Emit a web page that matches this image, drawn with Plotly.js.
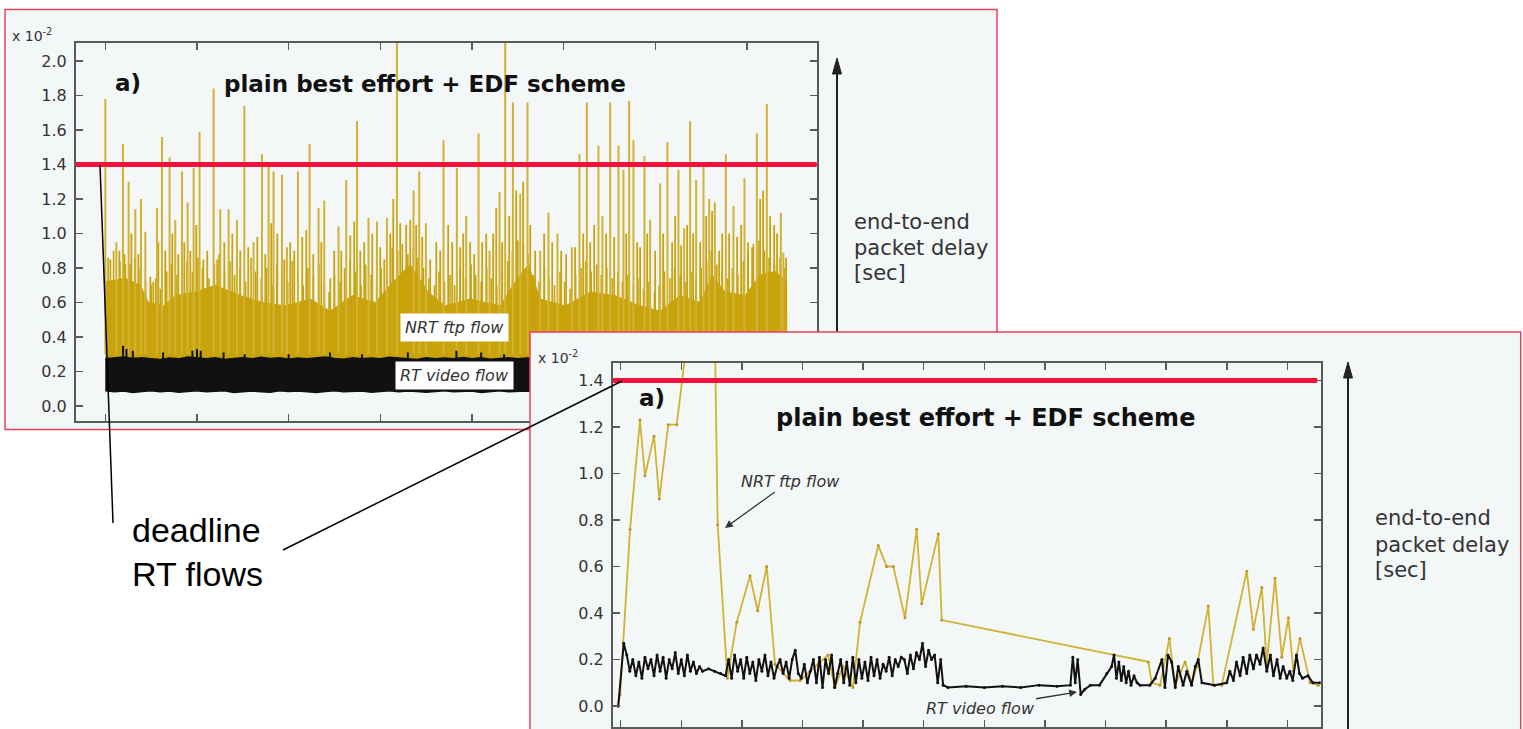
<!DOCTYPE html>
<html><head><meta charset="utf-8">
<script src="https://cdn.plot.ly/plotly-3.0.1.min.js"></script>
<style>
html,body{margin:0;padding:0;background:#fff;}
#wrap{position:relative;width:1523px;height:729px;overflow:hidden;}
#p1,#p2{position:absolute;left:0;top:0;width:1523px;height:729px;}
</style></head><body>
<div id="wrap"><div id="p1"></div><div id="p2"></div></div>
<script>
// ---------------- DATA (delay in units of 1e-2 s, time in arbitrary units, tick every 10) ----------------
const deadline = 1.4;

// Panel 1 (overview): NRT ftp flow, tall delay spikes
const nrtSpikeTime = [0.0,1.2,1.93,2.54,3.27,3.89,4.36,5.64,6.18,7.01,7.63,8.36,8.98,9.63,10.28,11.81,12.54,13.45,14.36,15.16,16.17,17.09,17.81,18.35,19.27,19.81,21.01,22.28,23.26,23.88,25.44,26.28,27.45,28.71,29.63,30.72,31.81,33.62,34.24,34.97,36.89,38.35,39.37,40.71,41.91,43.0,43.62,44.46,45.26,46.05,47.44,48.34,49.32,50.89,51.72,52.53,53.79,54.23,55.07,55.98,56.52,57.14,57.61,58.81,59.43,60.52,61.32,62.52,63.14,63.79,64.45,65.25,65.87,66.49,67.69,68.52,69.72,71.07,72.16,73.69,73.97];
const nrtSpikeDelay = [1.78,0.95,1.52,1.30,1.14,1.20,1.01,1.15,1.56,1.44,1.08,1.36,1.18,1.38,1.59,1.84,1.14,1.14,1.08,1.74,0.95,1.46,1.39,1.36,1.34,0.92,1.36,1.52,1.15,1.19,1.04,1.31,1.65,1.09,1.07,1.09,2.30,1.25,1.36,1.06,1.54,1.38,1.10,1.58,0.90,1.24,2.30,1.76,1.23,1.76,0.90,1.12,1.00,0.92,1.46,1.76,1.51,1.10,1.76,1.51,1.37,1.77,1.54,1.45,1.08,1.29,1.53,1.37,1.03,1.65,1.31,1.39,1.20,1.18,1.46,1.16,1.32,1.58,1.75,1.12,0.89];
// Panel 1: NRT ftp flow, medium spikes
const nrtMidTime = [0.55,1.53,2.18,2.84,3.6,4.91,5.23,5.78,6.54,7.31,7.96,8.62,9.27,9.92,10.69,11.12,12.21,12.98,13.85,14.72,15.59,16.58,17.45,18.1,18.76,19.52,20.17,20.61,21.48,21.92,22.68,23.56,24.54,24.97,25.74,26.72,27.15,27.81,28.24,29.12,29.99,30.43,31.08,31.41,32.17,32.82,33.26,33.91,34.57,35.44,36.1,36.53,37.4,37.84,38.71,39.04,39.8,40.24,41.11,41.55,42.31,42.64,43.29,44.06,44.82,45.58,46.35,46.89,47.87,48.75,49.73,50.27,51.25,52.13,52.89,53.33,54.63,55.51,56.82,58.02,58.34,59.11,59.98,60.85,61.83,62.16,62.81,63.47,64.12,64.89,65.54,66.19,66.96,67.29,68.05,68.92,69.36,70.12,70.56,71.43,71.76,72.52,72.96,73.28,74.26];
const nrtMidDelay = [0.85,0.9,0.82,1.0,0.88,0.75,0.72,0.95,0.9,1.0,0.88,0.95,0.9,1.05,0.85,0.9,0.85,0.95,1.0,0.9,0.92,0.98,0.88,1.06,1.0,0.85,0.95,0.9,0.98,1.02,0.88,0.95,0.74,0.9,0.9,0.99,1.07,0.9,0.95,1.0,0.92,0.85,1.0,1.2,1.06,1.05,1.08,1.05,0.98,0.85,0.95,0.9,1.05,0.95,0.92,1.0,0.95,0.88,0.95,1.0,1.0,1.15,0.95,1.1,1.25,1.3,1.05,0.9,1.0,0.95,0.9,0.88,0.92,1.0,0.95,1.05,1.0,0.98,1.0,0.95,0.92,1.0,0.9,1.0,0.95,1.1,0.93,1.05,1.0,0.95,1.1,1.13,0.9,1.0,1.0,0.98,1.05,0.95,0.92,1.2,1.25,1.1,1.05,1.0,0.86];
// Panel 1: NRT ftp flow, short dense spikes
const nrtGrassTime = [0.3,0.9,1.6,2.1,2.7,3.2,3.8,4.4, 5.0,5.5,6.0,6.7,7.2,7.8,8.4,8.9, 9.5,10.1,10.6,11.3,11.9,12.4,13.0,13.6, 14.1,14.7,15.3,15.9,16.4,17.0,17.6,18.2, 18.7,19.3,19.9,20.4,21.0,21.6,22.1,22.7, 23.3,23.9,24.4,25.0,25.6,26.1,26.7,27.3, 27.9,28.4,29.0,29.6,30.1,30.7,31.3,31.9, 32.4,33.0,33.6,34.1,34.7,35.3,35.9,36.4, 37.0,37.6,38.1,38.7,39.3,39.9,40.4,41.0, 41.6,42.1,42.7,43.3,43.9,44.4,45.0,45.6, 46.1,46.7,47.3,47.9,48.4,49.0,49.6,50.1, 50.7,51.3,51.9,52.4,53.0,53.6,54.1,54.7, 55.3,55.9,56.4,57.0,57.6,58.1,58.7,59.3, 59.9,60.4,61.0,61.6,62.1,62.7,63.3,63.9, 64.4,65.0,65.6,66.1,66.7,67.3,67.9,68.4, 69.0,69.6,70.1,70.7,71.3,71.9,72.4,73.0, 73.6,74.1];
const nrtGrassDelay = [0.86,0.9,0.84,0.88,0.82,0.86,0.8,0.72, 0.7,0.74,0.68,0.78,0.82,0.76,0.8,0.84, 0.78,0.86,0.8,0.74,0.82,0.88,0.78,0.84, 0.76,0.8,0.72,0.86,0.78,0.74,0.8,0.7, 0.82,0.76,0.72,0.84,0.78,0.7,0.8,0.74, 0.82,0.7,0.66,0.76,0.72,0.8,0.84,0.78, 0.7,0.82,0.76,0.72,0.8,0.86,0.92,0.9, 0.94,0.88,0.92,0.86,0.8,0.74,0.7,0.78, 0.72,0.76,0.7,0.8,0.74,0.82,0.76,0.72, 0.8,0.74,0.7,0.78,0.84,0.9,0.96,0.94, 0.88,0.76,0.72,0.8,0.74,0.7,0.78,0.72, 0.68,0.76,0.8,0.84,0.78,0.82,0.76,0.8, 0.74,0.78,0.72,0.76,0.7,0.74,0.68,0.72, 0.66,0.7,0.78,0.74,0.8,0.76,0.72,0.78, 0.74,0.8,0.84,0.9,0.82,0.78,0.74,0.8, 0.76,0.84,0.9,0.94,0.96,0.9,0.86,0.82, 0.86,0.8];
// Panel 1: NRT ftp flow, solid band upper envelope
const nrtBandTime = [0,2.18,3.82,4.69,6.33,7.63,9.81,12.0,14.72,17.12,19.63,22.36,24.54,26.94,29.44,31.41,33.26,35.22,37.08,39.8,43.08,44.71,46.13,47.44,50.16,52.89,55.62,58.34,60.52,62.7,64.89,66.19,67.61,69.79,71.43,73.06,74.37];
const nrtBandDelay = [0.72,0.74,0.7,0.6,0.58,0.64,0.66,0.7,0.64,0.6,0.58,0.62,0.55,0.64,0.6,0.72,0.82,0.66,0.58,0.62,0.58,0.72,0.82,0.62,0.58,0.66,0.64,0.58,0.55,0.64,0.6,0.76,0.66,0.64,0.76,0.78,0.72];
// Panel 1: RT video flow band
const rtBandTime  = [0,1,2,3,4,5,6,7,8,9,10,11,12,13,14,15,16,17,18,19,20,21,22,23,24,25,26,27,28,29,30,31,32,33,34,35,36,37,38,39,40,41,42,43,44,45,46,50,55,60,65,70,74.4];
const rtBandUpper = [0.272,0.278,0.282,0.274,0.279,0.273,0.268,0.277,0.272,0.283,0.278,0.273,0.279,0.269,0.274,0.278,0.272,0.281,0.274,0.278,0.27,0.277,0.273,0.278,0.282,0.274,0.27,0.278,0.273,0.277,0.272,0.281,0.277,0.273,0.269,0.278,0.273,0.277,0.272,0.28,0.273,0.278,0.27,0.274,0.278,0.273,0.277,0.274,0.278,0.273,0.277,0.274,0.274];
const rtBandLower = [0.088,0.083,0.087,0.079,0.084,0.088,0.083,0.087,0.08,0.084,0.088,0.083,0.085,0.088,0.079,0.084,0.087,0.083,0.08,0.088,0.084,0.087,0.083,0.079,0.084,0.088,0.083,0.085,0.087,0.08,0.084,0.088,0.083,0.087,0.084,0.08,0.084,0.088,0.083,0.085,0.087,0.079,0.084,0.088,0.083,0.085,0.087,0.084,0.087,0.083,0.085,0.087,0.084];
const rtSpikeTime  = [1.93,2.3,3.0,6.3,9.5,10.0,10.4,12.9,15.2,20,24.5,28,33,38.3,41,43.5];
const rtSpikeDelay = [0.35,0.33,0.32,0.31,0.32,0.33,0.32,0.31,0.30,0.30,0.31,0.30,0.31,0.32,0.31,0.30];

// Panel 2 (zoom): NRT ftp flow
const nrtZoomTime  = [-0.5,-0.1,1.54,3.18,4.0,5.5,6.37,7.85,9.24,12.5,15.4,16.0,17.6,19.14,21.34,22.6,24.09,25.46,27.94,29.6,34.2,35.35,36.67,38.32,39.49,42.5,43.89,44.98,46.91,48.84,49.67,52.41,52.97,87.06,87.62,88.99,90.53,91.47,93.12,94.22,95.05,96.96,97.79,99.17,103.3,104.39,105.78,106.6,107.97,109.08,110.17,110.99,112.09,113.74,115.1];
const nrtZoomDelay = [0.0,0.05,0.76,1.23,0.99,1.16,0.89,1.21,1.21,1.9,1.85,0.78,0.12,0.36,0.56,0.41,0.6,0.18,0.11,0.11,0.22,0.08,0.17,0.08,0.36,0.69,0.6,0.6,0.38,0.76,0.44,0.74,0.37,0.19,0.1,0.09,0.29,0.09,0.19,0.1,0.17,0.43,0.09,0.09,0.58,0.33,0.51,0.18,0.55,0.21,0.38,0.15,0.29,0.1,0.09];
// Panel 2 (zoom): RT video flow
const rtZoomTime  = [-0.4,0.5,1.0,1.5,2.0,2.5,3.0,3.5,4.0,4.5,5.0,5.5,6.0,6.5,7.0,7.5,8.0,8.5,9.0,9.5,10.0,10.5,11.0,11.5,12.0,12.5,13.0,13.5,14.5,15.5,16.5,17.3,17.8,18.3,18.8,19.3,19.8,20.3,20.8,21.3,21.8,22.3,22.8,23.3,23.8,24.3,24.8,25.3,25.8,26.3,26.8,27.3,27.8,28.3,28.8,29.3,29.8,30.3,30.8,31.3,31.8,32.3,32.8,33.3,33.8,34.3,34.8,35.3,35.8,36.3,36.8,37.3,37.8,38.3,38.8,39.3,39.8,40.3,40.8,41.3,41.8,42.3,42.8,43.3,43.8,44.3,44.8,45.3,45.8,46.3,46.8,47.3,47.8,48.3,48.8,49.3,49.8,50.3,50.8,51.3,51.8,52.3,52.8,53.2,54,57,60,63,66,69,72,74.2,74.6,75.0,75.4,75.9,76.5,77.5,79.0,80.2,81.0,81.4,81.8,82.2,82.6,83.0,83.4,83.8,84.2,84.7,85.2,85.7,87.3,88.2,89.3,89.8,90.3,90.9,91.5,92.0,92.8,93.4,94.2,94.8,95.3,95.9,98.0,100.0,100.5,101.1,101.6,102.2,102.7,103.3,103.8,104.4,104.9,105.5,106.0,106.6,107.2,107.7,108.3,108.8,109.3,109.9,110.4,110.9,111.5,112.0,112.5,113.4,114.2,115.4];
const rtZoomDelay = [0.0,0.27,0.22,0.15,0.2,0.13,0.19,0.12,0.21,0.16,0.2,0.13,0.22,0.15,0.21,0.12,0.2,0.16,0.23,0.14,0.2,0.13,0.22,0.15,0.19,0.14,0.17,0.15,0.16,0.15,0.14,0.13,0.2,0.12,0.22,0.15,0.2,0.12,0.21,0.14,0.19,0.11,0.2,0.15,0.22,0.13,0.19,0.12,0.17,0.2,0.14,0.19,0.12,0.2,0.24,0.14,0.12,0.18,0.1,0.15,0.2,0.1,0.21,0.08,0.2,0.14,0.22,0.08,0.14,0.2,0.1,0.19,0.09,0.21,0.1,0.2,0.12,0.19,0.11,0.21,0.13,0.2,0.12,0.18,0.15,0.21,0.13,0.2,0.17,0.21,0.2,0.14,0.22,0.16,0.23,0.2,0.27,0.17,0.24,0.2,0.22,0.1,0.2,0.09,0.08,0.085,0.08,0.085,0.08,0.09,0.085,0.09,0.21,0.1,0.2,0.05,0.07,0.09,0.09,0.14,0.17,0.22,0.12,0.19,0.11,0.17,0.1,0.15,0.09,0.13,0.1,0.09,0.09,0.12,0.2,0.08,0.22,0.19,0.08,0.17,0.09,0.15,0.09,0.17,0.2,0.1,0.09,0.1,0.15,0.11,0.19,0.13,0.21,0.14,0.22,0.16,0.22,0.18,0.25,0.15,0.22,0.13,0.2,0.12,0.17,0.12,0.15,0.11,0.22,0.14,0.12,0.13,0.1,0.1];

// ---------------- LAYOUT HELPERS ----------------
const W = 1523, H = 729;
const X = px => px / W;
const Y = py => 1 - py / H;
const FONT = 'DejaVu Sans, Verdana, sans-serif';
const YEL = '#c9a30c', YEL2 = '#d2b233', PANEL = '#f4f7f8', BORDER = '#e8415a', RED = '#f2123c', FRAME = '#5a5a5a';

function segs(ts, vs, base) {
  const x = [], y = [];
  ts.forEach((t, i) => { x.push(t, t, null); y.push(base, vs[i], null); });
  return {x, y};
}
function axisStyle(extra) {
  return Object.assign({
    showline: true, mirror: 'ticks', linecolor: FRAME, linewidth: 2,
    ticks: 'inside', ticklen: 7, tickwidth: 1.5, tickcolor: FRAME,
    showgrid: false, zeroline: false, fixedrange: true,
    tickfont: {family: FONT, size: 16, color: '#333'}
  }, extra);
}
function txt(x, y, text, opts) {
  return Object.assign({xref: 'paper', yref: 'paper', x: X(x), y: Y(y), text: text, showarrow: false,
    xanchor: 'center', yanchor: 'middle', font: {family: FONT, size: 16, color: '#222'}}, opts || {});
}
// vertical arrow (line + filled head) in page pixels
function vArrow(x, yBottom, yTip) {
  return [
    {type: 'line', xref: 'paper', yref: 'paper', x0: X(x), x1: X(x), y0: Y(yBottom), y1: Y(yTip + 12), line: {color: '#222', width: 2}, layer: 'above'},
    {type: 'path', xref: 'paper', yref: 'paper', path: `M ${X(x)} ${Y(yTip)} L ${X(x - 4.5)} ${Y(yTip + 16)} L ${X(x + 4.5)} ${Y(yTip + 16)} Z`, fillcolor: '#222', line: {color: '#222', width: 1}, layer: 'above'}
  ];
}

// ---------------- PANEL 1 ----------------
const sp1 = segs(nrtSpikeTime, nrtSpikeDelay, 0.3);
const sp2 = segs(nrtMidTime, nrtMidDelay, 0.3);
const spG = segs(nrtGrassTime, nrtGrassDelay, 0.3);
const sp3 = segs(rtSpikeTime, rtSpikeDelay, 0.25);
const traces1 = [
  {x: rtBandTime, y: rtBandLower, type: 'scatter', mode: 'lines', line: {color: YEL, width: 0}, hoverinfo: 'skip'},
  {x: nrtBandTime, y: nrtBandDelay, type: 'scatter', mode: 'lines', fill: 'tonexty', fillcolor: YEL, line: {color: YEL, width: 1}, hoverinfo: 'skip'},
  {x: spG.x, y: spG.y, type: 'scatter', mode: 'lines', line: {color: YEL, width: 1.6}, hoverinfo: 'skip'},
  {x: sp2.x, y: sp2.y, type: 'scatter', mode: 'lines', line: {color: YEL, width: 1.8}, hoverinfo: 'skip'},
  {x: sp1.x, y: sp1.y, type: 'scatter', mode: 'lines', line: {color: YEL2, width: 2}, hoverinfo: 'skip'},
  {x: rtBandTime, y: rtBandLower, type: 'scatter', mode: 'lines', line: {color: '#111', width: 1.5}, hoverinfo: 'skip'},
  {x: rtBandTime, y: rtBandUpper, type: 'scatter', mode: 'lines', fill: 'tonexty', fillcolor: '#111', line: {color: '#111', width: 2}, hoverinfo: 'skip'},
  {x: sp3.x, y: sp3.y, type: 'scatter', mode: 'lines', line: {color: '#111', width: 2}, hoverinfo: 'skip'}
];
const layout1 = {
  width: W, height: H, margin: {l: 0, r: 0, t: 0, b: 0},
  paper_bgcolor: '#ffffff', plot_bgcolor: PANEL, showlegend: false,
  xaxis: axisStyle({domain: [X(76), X(816.7)], range: [-3.2, 77.6], tick0: 0, dtick: 10, showticklabels: false}),
  yaxis: axisStyle({domain: [Y(420.7), Y(42.7)], range: [-0.085, 2.106], tick0: 0, dtick: 0.2, tickformat: '.1f', ticklabelstandoff: 4}),
  shapes: [
    {type: 'rect', xref: 'paper', yref: 'paper', x0: X(5), x1: X(997), y0: Y(429.5), y1: Y(9.5), fillcolor: PANEL, line: {color: BORDER, width: 1.5}, layer: 'below'},
    {type: 'line', xref: 'x domain', yref: 'y', x0: 0, x1: 1, y0: deadline, y1: deadline, line: {color: RED, width: 5}, layer: 'above'}
  ].concat(vArrow(837, 430, 58)),
  annotations: [
    txt(128, 83, '<b>a)</b>', {font: {family: FONT, size: 23, color: '#111'}}),
    txt(425, 84, '<b>plain best effort + EDF scheme</b>', {font: {family: FONT, size: 23, color: '#111'}}),
    txt(454, 327, '<i>NRT ftp flow</i>', {bgcolor: '#ffffff', borderpad: 4, font: {family: FONT, size: 16, color: '#333'}}),
    txt(454.5, 375.5, '<i>RT video flow</i>', {bgcolor: '#ffffff', borderpad: 4, font: {family: FONT, size: 16, color: '#333'}}),
    txt(10, 35, 'x 10<sup>-2</sup>', {xanchor: 'left', font: {family: FONT, size: 14, color: '#333'}}),
    txt(852, 222, 'end-to-end', {xanchor: 'left', font: {family: FONT, size: 21, color: '#333'}}),
    txt(852, 248, 'packet delay', {xanchor: 'left', font: {family: FONT, size: 21, color: '#333'}}),
    txt(852, 273, '[sec]', {xanchor: 'left', font: {family: FONT, size: 21, color: '#333'}})
  ]
};
Plotly.newPlot('p1', traces1, layout1, {displayModeBar: false, staticPlot: true});

// ---------------- PANEL 2 (overlay) ----------------
const traces2 = [
  {x: nrtZoomTime, y: nrtZoomDelay, type: 'scatter', mode: 'lines+markers', line: {color: YEL2, width: 1.8}, marker: {color: '#b89a20', size: 3}, hoverinfo: 'skip'},
  {x: rtZoomTime, y: rtZoomDelay, type: 'scatter', mode: 'lines+markers', line: {color: '#111', width: 2}, marker: {color: '#111', size: 3}, hoverinfo: 'skip'}
];
const layout2 = {
  width: W, height: H, margin: {l: 0, r: 0, t: 0, b: 0},
  paper_bgcolor: 'rgba(0,0,0,0)', plot_bgcolor: 'rgba(0,0,0,0)', showlegend: false,
  xaxis: axisStyle({domain: [X(613), X(1320.7)], range: [-1.27, 115.5], tick0: 0, dtick: 10, showticklabels: false}),
  yaxis: axisStyle({domain: [Y(727), Y(363)], range: [-0.09, 1.475], tick0: 0, dtick: 0.2, tickformat: '.1f', ticklabelstandoff: 4}),
  shapes: [
    {type: 'rect', xref: 'paper', yref: 'paper', x0: X(530), x1: X(1520.7), y0: Y(745), y1: Y(332), fillcolor: PANEL, line: {color: BORDER, width: 1.5}, layer: 'below'},
    {type: 'line', xref: 'x domain', yref: 'y', x0: 0, x1: 0.995, y0: deadline, y1: deadline, line: {color: RED, width: 5}, layer: 'above'},
    {type: 'line', xref: 'paper', yref: 'paper', x0: X(100), y0: Y(165), x1: X(113), y1: Y(523), line: {color: '#000', width: 1.5}, layer: 'above'},
    {type: 'line', xref: 'paper', yref: 'paper', x0: X(283), y0: Y(550), x1: X(622), y1: Y(381), line: {color: '#000', width: 1.5}, layer: 'above'}
  ].concat(vArrow(1348, 735, 362)),
  annotations: [
    txt(130, 552, 'deadline<br>RT flows', {xanchor: 'left', align: 'left', font: {family: 'Liberation Sans, Arial, sans-serif', size: 34, color: '#000'}}),
    txt(652, 398, '<b>a)</b>', {font: {family: FONT, size: 23, color: '#111'}}),
    txt(985, 418, '<b>plain best effort + EDF scheme</b>', {font: {family: FONT, size: 24, color: '#111'}}),
    {xref: 'paper', yref: 'paper', x: X(725), y: Y(528), ax: 65, ay: -47, xanchor: 'center', yanchor: 'middle', text: '<i>NRT ftp flow</i>', font: {family: FONT, size: 16, color: '#333'}, showarrow: true, arrowhead: 2, arrowsize: 1.2, arrowwidth: 1.3, arrowcolor: '#333', standoff: 0},
    {xref: 'paper', yref: 'paper', x: X(1077), y: Y(692), ax: -97, ay: 16, xanchor: 'center', yanchor: 'middle', text: '<i>RT video flow</i>', font: {family: FONT, size: 16, color: '#333'}, showarrow: true, arrowhead: 2, arrowsize: 1.2, arrowwidth: 1.3, arrowcolor: '#333', standoff: 0},
    txt(536, 357, 'x 10<sup>-2</sup>', {xanchor: 'left', font: {family: FONT, size: 14, color: '#333'}}),
    txt(1373, 518, 'end-to-end', {xanchor: 'left', font: {family: FONT, size: 21, color: '#333'}}),
    txt(1373, 545, 'packet delay', {xanchor: 'left', font: {family: FONT, size: 21, color: '#333'}}),
    txt(1373, 570, '[sec]', {xanchor: 'left', font: {family: FONT, size: 21, color: '#333'}})
  ]
};
Plotly.newPlot('p2', traces2, layout2, {displayModeBar: false, staticPlot: true});
</script>
</body></html>
